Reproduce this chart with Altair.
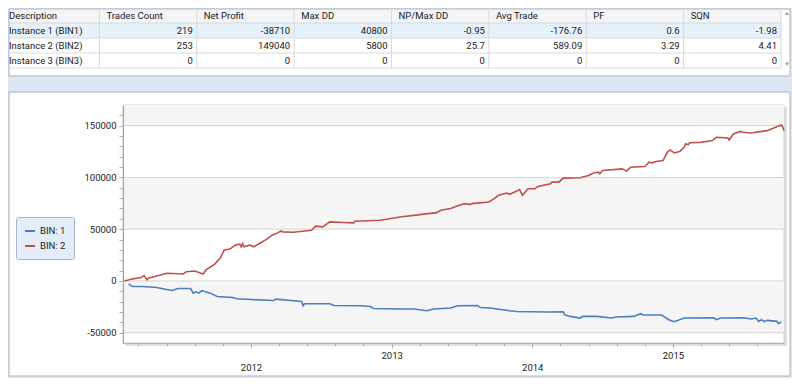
import altair as alt
import pandas as pd

# ---------------- table data ----------------
table_columns = ["Description", "Trades Count", "Net Profit", "Max DD",
                 "NP/Max DD", "Avg Trade", "PF", "SQN"]
descriptions = ["Instance 1 (BIN1)", "Instance 2 (BIN2)", "Instance 3 (BIN3)"]
trades_count = ["219", "253", "0"]
net_profit = ["-38710", "149040", "0"]
max_dd = ["40800", "5800", "0"]
np_max_dd = ["-0.95", "25.7", "0"]
avg_trade = ["-176.76", "589.09", "0"]
pf = ["0.6", "3.29", "0"]
sqn = ["-1.98", "4.41", "0"]

# ---------------- series data (decimal years) ----------------
series_names = ["BIN: 1", "BIN: 2"]
series_colors = ["#4a7ebf", "#c0504d"]

bin1_years = [2011.13, 2011.15, 2011.16, 2011.23, 2011.33, 2011.39, 2011.44, 2011.48,
              2011.57, 2011.59, 2011.61, 2011.63, 2011.65, 2011.71, 2011.76, 2011.87,
              2011.90, 2012.16, 2012.18, 2012.30, 2012.36, 2012.37, 2012.38, 2012.56,
              2012.59, 2012.78, 2012.85, 2012.87, 2013.06, 2013.16, 2013.25, 2013.30,
              2013.42, 2013.47, 2013.61, 2013.63, 2013.70, 2013.84, 2013.89, 2014.10,
              2014.22, 2014.23, 2014.27, 2014.34, 2014.36, 2014.46, 2014.56, 2014.60,
              2014.72, 2014.77, 2014.79, 2014.92, 2014.97, 2015.01, 2015.08, 2015.29,
              2015.31, 2015.34, 2015.50, 2015.56, 2015.59, 2015.61, 2015.63, 2015.65,
              2015.67, 2015.74, 2015.75, 2015.77]
bin1_values = [-2900, -4800, -5400, -5400, -6400, -8000, -9300, -7400,
               -7400, -11800, -10600, -11800, -9300, -11800, -15100, -16100,
               -17300, -18900, -17600, -19200, -19900, -24000, -22100, -22100,
               -23700, -24000, -24700, -26600, -27200, -27200, -28800, -27200,
               -26200, -24000, -23700, -25700, -26200, -28800, -29500, -30100,
               -29800, -32700, -34300, -35900, -34300, -34300, -35900, -34900,
               -34300, -31700, -33000, -33000, -37500, -39400, -35900, -35600,
               -37500, -35900, -35600, -36800, -35900, -39100, -37500, -39400,
               -38100, -39100, -41300, -39700]

bin2_years = [2011.10, 2011.16, 2011.22, 2011.24, 2011.26, 2011.27, 2011.33, 2011.40,
              2011.52, 2011.54, 2011.60, 2011.66, 2011.68, 2011.74, 2011.78, 2011.81,
              2011.85, 2011.89, 2011.92, 2011.93, 2011.94, 2011.95, 2011.99, 2012.02,
              2012.06, 2012.11, 2012.15, 2012.19, 2012.21, 2012.23, 2012.30, 2012.43,
              2012.46, 2012.51, 2012.56, 2012.66, 2012.73, 2012.74, 2012.92, 2013.06,
              2013.20, 2013.32, 2013.35, 2013.42, 2013.48, 2013.52, 2013.56, 2013.57,
              2013.69, 2013.72, 2013.76, 2013.82, 2013.84, 2013.89, 2013.91, 2013.93,
              2013.97, 2014.02, 2014.04, 2014.13, 2014.14, 2014.19, 2014.22, 2014.34,
              2014.40, 2014.44, 2014.47, 2014.48, 2014.50, 2014.64, 2014.67, 2014.70,
              2014.80, 2014.83, 2014.85, 2014.88, 2014.93, 2014.96, 2014.98, 2015.01,
              2015.05, 2015.08, 2015.09, 2015.11, 2015.12, 2015.20, 2015.28, 2015.31,
              2015.39, 2015.40, 2015.43, 2015.48, 2015.50, 2015.55, 2015.67, 2015.77,
              2015.78, 2015.79]
bin2_values = [0, 2000, 3200, 5100, 1000, 2600, 4800, 7400,
               6700, 8900, 9600, 6700, 10600, 16000, 21800, 29800,
               30800, 34600, 35600, 33000, 36200, 33000, 34600, 33000,
               36200, 40100, 44200, 46400, 48100, 47400, 47100, 49000,
               52900, 52200, 57000, 56400, 56100, 57700, 58600, 61800,
               64100, 66000, 68300, 69900, 73100, 74700, 73700, 74700,
               76200, 78600, 82700, 84900, 83700, 86800, 88200, 82700,
               89100, 89100, 91300, 93900, 95500, 95500, 99300, 99700,
               101900, 104500, 105100, 103600, 106700, 108300, 106100, 109900,
               110600, 114700, 114100, 115400, 116300, 124300, 126600, 123700,
               125300, 129100, 132400, 131700, 133600, 133900, 135600, 138800,
               138200, 136200, 142000, 144500, 143600, 143000, 145200, 150600,
               149000, 145200]

# ---------------- axes ----------------
x_domain = [2011.09, 2015.79]
y_domain = [-60000, 170000]
x_tick_values = [2011.2, 2011.4, 2011.6, 2011.8, 2012.0, 2012.2, 2012.4, 2012.6, 2012.8,
                 2013.0, 2013.2, 2013.4, 2013.6, 2013.8, 2014.0, 2014.2, 2014.4, 2014.6,
                 2014.8, 2015.0, 2015.2, 2015.4, 2015.6]
y_tick_values = [-50000, -40000, -30000, -20000, -10000, 0, 10000, 20000, 30000, 40000,
                 50000, 60000, 70000, 80000, 90000, 100000, 110000, 120000, 130000,
                 140000, 150000, 160000]
grid_values = [-50000, 0, 50000, 100000, 150000]
band_tops = [170000, 100000, 0]
band_bottoms = [150000, 50000, -50000]
scroll_arrows = ["\u25b4", "\u25be"]

FONT = "Roboto"
FS = 9.5
W, H = 661, 238
PANEL_STROKE = "#a9b1bb"

one = pd.DataFrame({"k": [0]})


def deco_rect(x, x2, y, y2, fill, stroke=""):
    kw = dict(fill=fill)
    if stroke:
        kw.update(stroke=stroke, strokeWidth=1)
    else:
        kw.update(strokeWidth=0)
    return alt.Chart(one).mark_rect(**kw).encode(
        x=alt.value(x), x2=alt.value(x2), y=alt.value(y), y2=alt.value(y2))


xs = alt.Scale(domain=x_domain, nice=False, zero=False)
ys = alt.Scale(domain=y_domain, nice=False, zero=False)

is_year = "abs(datum.value - round(datum.value)) < 0.01"
x_axis = alt.Axis(
    values=x_tick_values, title=None, grid=False,
    labelExpr=f"{is_year} ? toString(round(datum.value)) : ''",
    labelPadding={"condition": {"test": "round(datum.value) % 2 == 0", "value": 14}, "value": 2},
    tickSize={"condition": {"test": is_year, "value": 5}, "value": 3},
    domainColor="#b0b0b0", tickColor="#b0b0b0", labelColor="#222222",
    labelFont=FONT, labelFontSize=FS, labelOverlap=False, labelFlush=False, zindex=1)
y_axis = alt.Axis(
    values=y_tick_values, title=None, grid=False,
    labelExpr="datum.value % 50000 == 0 ? toString(datum.value) : ''",
    tickSize=4, labelPadding=3,
    domainColor="#a0a0a0", tickColor="#b0b0b0", labelColor="#222222",
    labelFont=FONT, labelFontSize=FS, labelOverlap=False, zindex=1)

legend = alt.Legend(
    orient="none", legendX=-107, legendY=112, title=None,
    symbolType="stroke", symbolSize=100, symbolStrokeWidth=2,
    labelFont=FONT, labelFontSize=FS, labelColor="#222222",
    rowPadding=4, padding=8, fillColor="#e3edf9", strokeColor="#a9b5c6",
    cornerRadius=2, zindex=1)

# ---------------- main chart layers ----------------
bg = deco_rect(-115, 669, -97, 273, "#dde8f6")
chart_panel = deco_rect(-114, 667, -13, 271, "#ffffff", PANEL_STROKE)
shadow = deco_rect(2, W + 3, 2, H + 3, "#dedede")
plot_bg = deco_rect(0, W, 0, H, "#ffffff", "#d2d2d2")

bands_df = pd.DataFrame({"top": band_tops, "bottom": band_bottoms})
bands = alt.Chart(bands_df).mark_rect(fill="#f5f5f5", strokeWidth=0).encode(
    x=alt.value(0), x2=alt.value(W),
    y=alt.Y("top:Q", scale=ys, axis=y_axis), y2="bottom:Q")

grid_df = pd.DataFrame({"g": grid_values})
grid = alt.Chart(grid_df).mark_rule(color="#d6d6d6", strokeWidth=1).encode(
    x=alt.value(0), x2=alt.value(W),
    y=alt.Y("g:Q", scale=ys, axis=y_axis))

lines_df = pd.concat([
    pd.DataFrame({"t": bin1_years, "v": bin1_values, "series": series_names[0]}),
    pd.DataFrame({"t": bin2_years, "v": bin2_values, "series": series_names[1]}),
])

lines = alt.Chart(lines_df).mark_line(strokeWidth=1.6).encode(
    x=alt.X("t:Q", scale=xs, axis=x_axis),
    y=alt.Y("v:Q", scale=ys, axis=y_axis),
    color=alt.Color("series:N", scale=alt.Scale(domain=series_names, range=series_colors),
                    legend=legend))

main = alt.layer(bg, chart_panel, shadow, plot_bg, bands, grid, lines)

# ---------------- table layers ----------------
tx = alt.Scale(domain=[0, 8], range=[-121, 658], nice=False, zero=False)
ty = alt.Scale(domain=[0, 4], range=[-97, -37], nice=False, zero=False)

table_panel = deco_rect(-114, 667, -96, -29, "#ffffff", PANEL_STROKE)
header_bg = deco_rect(-113, 658, -95, -82, "#f3f4f6")
row_hl = deco_rect(-113, 658, -82, -67, "#e5f1fb")

vr_df = pd.DataFrame({"e": list(range(1, 9))})
vrules = alt.Chart(vr_df).mark_rule(color="#d9d9d9").encode(
    x=alt.X("e:Q", scale=tx, axis=None), y=alt.value(-95), y2=alt.value(-37))
hr_df = pd.DataFrame({"r": [1, 2, 3, 4]})
hrules = alt.Chart(hr_df).mark_rule(color="#d9d9d9").encode(
    y=alt.Y("r:Q", scale=ty, axis=None), x=alt.value(-113), x2=alt.value(658))

left_rows = [{"xpos": k, "ypos": 0.5, "text": c} for k, c in enumerate(table_columns)]
left_rows += [{"xpos": 0, "ypos": r + 1.5, "text": d} for r, d in enumerate(descriptions)]
value_cols = [trades_count, net_profit, max_dd, np_max_dd, avg_trade, pf, sqn]
right_rows = []
for k, col in enumerate(value_cols):
    for r, val in enumerate(col):
        right_rows.append({"xpos": k + 2, "ypos": r + 1.5, "text": val})

text_left = alt.Chart(pd.DataFrame(left_rows)).mark_text(
    align="left", baseline="middle", dx=7, font=FONT, fontSize=FS, color="#1a1a1a").encode(
    x=alt.X("xpos:Q", scale=tx, axis=None), y=alt.Y("ypos:Q", scale=ty, axis=None), text="text:N")
text_right = alt.Chart(pd.DataFrame(right_rows)).mark_text(
    align="right", baseline="middle", dx=-4, font=FONT, fontSize=FS, color="#1a1a1a").encode(
    x=alt.X("xpos:Q", scale=tx, axis=None), y=alt.Y("ypos:Q", scale=ty, axis=None), text="text:N")

arrows_df = pd.DataFrame({"a": scroll_arrows, "ypos": [0.35, 3.75]})
arrows = alt.Chart(arrows_df).mark_text(
    align="center", baseline="middle", dx=6, font="DejaVu Sans", fontSize=7, color="#9a9a9a").encode(
    x=alt.value(658), y=alt.Y("ypos:Q", scale=ty, axis=None), text="a:N")

table = alt.layer(table_panel, header_bg, row_hl, hrules, vrules, text_left, text_right, arrows)

chart = alt.layer(main, table).resolve_scale(
    x="independent", y="independent"
).properties(width=W, height=H, padding=0).configure_view(strokeWidth=0)

chart.save("out.html", embed_options={"renderer": "svg", "actions": False})
